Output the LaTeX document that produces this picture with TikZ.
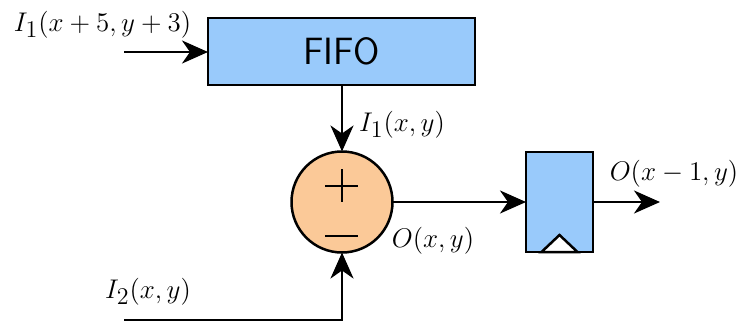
\documentclass[tikz,border=0pt]{standalone}
\usepackage{fix-cm}
\usepackage{amsmath}
\usepackage{tikz}
\usetikzlibrary{arrows.meta, positioning}

\DeclareMathSizes{13.5}{13.5}{12}{9}
\definecolor{boxblue}{RGB}{153,202,251}
\definecolor{sumorange}{RGB}{251,201,152}

\begin{document}
\begin{tikzpicture}[
    x=0.5pt, y=-0.5pt,
    block/.style={rectangle, draw=black, fill=boxblue, line width=1.25pt, inner sep=0pt, outer sep=0pt},
    adder/.style={circle, draw=black, fill=sumorange, line width=1.25pt, minimum size=50.5pt, inner sep=0pt, outer sep=0pt},
    wire/.style={draw=black, line width=1.3pt, -{Stealth[length=13pt, width=11.5pt, inset=4pt]}},
    sign/.style={draw=black, line width=1.25pt},
    label/.style={inner sep=0pt, font=\fontsize{13.5}{16}\selectfont}
]
\useasboundingbox (0,0) rectangle (739,322);

% --- Blocks ---
\node[block, minimum width=133.5pt, minimum height=33.5pt, font=\fontsize{19}{22}\selectfont\sffamily] (fifo) at (341.5,51.5) {FIFO};
\node[adder] (sum) at (342,202) {};
\node[block, minimum width=33.5pt, minimum height=50pt] (reg) at (559.5,202) {};

% --- Free ends of the wires ---
\coordinate (in1) at (124,52);
\coordinate (in2) at (124,320);
\coordinate (out) at (660,202);

% --- Signs inside the adder ---
\draw[sign] (sum.center) ++(-17,-16) -- ++(33,0);
\draw[sign] (sum.center) ++(0,-33) -- ++(0,33);
\draw[sign] (sum.center) ++(-17,34) -- ++(33,0);

% --- Clock mark of the register ---
\draw[draw=black, fill=white, line width=1.25pt] (reg.south) ++(-18,0) -- ++(18,-17) -- ++(18,17) -- cycle;

% --- Wires ---
\draw[wire] (in1) -- (fifo.west |- in1);
\draw[wire] (fifo.south -| sum) -- (sum.north);
\draw[wire] (sum.east) -- (reg.west);
\draw[wire] (reg.east) -- (out);
\draw[wire] (in2) -| (sum.south);

% --- Labels ---
\node[label] (lbla) at (102.5,25) {$I_1(x+5,y+3)$};
\node[label] (lblb) at (402,125) {$I_1(x,y)$};
\node[label] (lblc) at (433,241) {$O(x,y)$};
\node[label] (lbld) at (674,174) {$O(x-1,y)$};
\node[label] (lble) at (148,292) {$I_2(x,y)$};

\end{tikzpicture}
\end{document}
